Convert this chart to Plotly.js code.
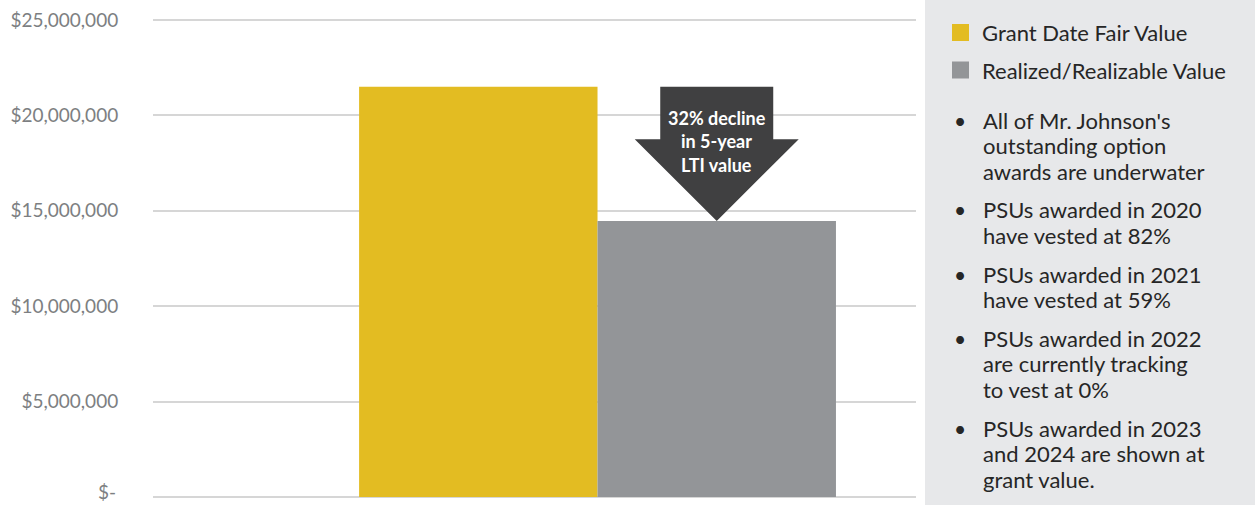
<!DOCTYPE html>
<html><head><meta charset="utf-8">
<script src="https://cdn.plot.ly/plotly-3.0.1.min.js"></script>
<style>html,body{margin:0;padding:0;background:#fff}#chart{width:1255px;height:505px}</style>
</head><body><div id="chart"></div>
<script>
const categories = ['5-Year LTI'];
const seriesNames = ['Grant Date Fair Value', 'Realized/Realizable Value'];
const grantValues = [21500000];
const realizedValues = [14470000];
const seriesColors = ['#e3bc22', '#939598'];
const yTickVals = [0, 5000000, 10000000, 15000000, 20000000, 25000000];
const yTickText = ['$-', '$5,000,000', '$10,000,000', '$15,000,000', '$20,000,000', '$25,000,000'];
const calloutLines = ['32% decline', 'in 5-year', 'LTI value'];
const bullets = [
  ["All of Mr. Johnson's", 'outstanding option', 'awards are underwater'],
  ['PSUs awarded in 2020', 'have vested at 82%'],
  ['PSUs awarded in 2021', 'have vested at 59%'],
  ['PSUs awarded in 2022', 'are currently tracking', 'to vest at 0%'],
  ['PSUs awarded in 2023', 'and 2024 are shown at', 'grant value.']
];

const W = 1255, H = 505;
const M = {l: 153, r: 339, t: 18, b: 6};
const plotW = W - M.l - M.r, plotH = H - M.t - M.b;
const px = x => (x - M.l) / plotW;
const py = y => (H - M.b - y) / plotH;
const FONT = 'Lato, "Open Sans", sans-serif';
const TXT = '#262626';
const TICKCOL = '#7d7f82';
const perPx = 25000000 / 477;
const yRange = [-2 * perPx, 25000000 + 2 * perPx];

const bargap = 0.375;
const grayCenter = (1 - bargap) / 4;

const traces = [
  {type: 'bar', name: seriesNames[0], x: categories, y: grantValues,
   marker: {color: seriesColors[0]}, hoverinfo: 'skip'},
  {type: 'bar', name: seriesNames[1], x: categories, y: realizedValues,
   marker: {color: seriesColors[1]}, hoverinfo: 'skip'}
];

const shapes = [
  {type: 'rect', xref: 'paper', yref: 'paper', x0: px(925), x1: px(1256), y0: py(506), y1: py(-1),
   fillcolor: '#e7e8ea', line: {width: 0}, layer: 'below'}
];
const wingY = 18750000;
shapes.push({
  type: 'path', xref: 'x', yref: 'y', xsizemode: 'pixel', xanchor: grayCenter,
  path: `M -56.5,${grantValues[0]} L 56.5,${grantValues[0]} L 56.5,${wingY} L 82,${wingY} L 0,${realizedValues[0]} L -82,${wingY} L -56.5,${wingY} Z`,
  fillcolor: '#404041', line: {width: 0}, layer: 'above'
});

const annotations = [];
const calloutShift = [103, 80, 56];
calloutLines.forEach((t, i) => annotations.push({
  xref: 'x', yref: 'y', x: grayCenter, y: realizedValues[0], yshift: calloutShift[i],
  text: '<b>' + t + '</b>', showarrow: false, xanchor: 'center', yanchor: 'middle',
  font: {family: FONT, size: 18, color: '#ffffff'}
}));

// bottom tick label drawn as an annotation kept inside the page
annotations.push({xref: 'paper', yref: 'paper', x: px(118), y: 0, yshift: -M.b,
  text: yTickText[0], showarrow: false, xanchor: 'right', yanchor: 'bottom',
  font: {family: FONT, size: 19, color: TICKCOL}});

const legendRows = [32.5, 70];
seriesNames.forEach((n, i) => {
  shapes.push({type: 'rect', xref: 'paper', yref: 'paper',
    x0: px(952), x1: px(969), y0: py(legendRows[i] + 8.5), y1: py(legendRows[i] - 8.5),
    fillcolor: seriesColors[i], line: {width: 0}});
  annotations.push({xref: 'paper', yref: 'paper', x: px(980), y: py(legendRows[i]),
    text: n, showarrow: false, xanchor: 'left', yanchor: 'middle',
    font: {family: FONT, size: 22, color: TXT}});
});

let yy = 120;
const lineH = 25.7, blockGap = 38.5;
bullets.forEach((block, bi) => {
  if (bi > 0) yy += blockGap - lineH;
  annotations.push({xref: 'paper', yref: 'paper', x: px(960), y: py(yy),
    text: '•', showarrow: false, xanchor: 'center', yanchor: 'middle',
    font: {family: FONT, size: 21, color: TXT}});
  block.forEach(line => {
    annotations.push({xref: 'paper', yref: 'paper', x: px(981), y: py(yy),
      text: line, showarrow: false, xanchor: 'left', yanchor: 'middle',
      font: {family: FONT, size: 22, color: TXT}});
    yy += lineH;
  });
});

const layout = {
  width: W, height: H, margin: M,
  paper_bgcolor: '#ffffff', plot_bgcolor: '#ffffff',
  showlegend: false, barmode: 'group', bargap: bargap, bargroupgap: 0,
  font: {family: FONT},
  xaxis: {type: 'category', range: [-0.5826, 0.4174], showticklabels: false,
          showgrid: false, zeroline: false, showline: false, ticks: '', fixedrange: true},
  yaxis: {range: yRange, tickvals: yTickVals, ticktext: [''].concat(yTickText.slice(1)),
          showgrid: true, gridcolor: '#d6d6d6', gridwidth: 2,
          zeroline: false, showline: false, ticklabeloverflow: 'allow',
          ticks: 'outside', ticklen: 30, tickcolor: 'rgba(0,0,0,0)',
          tickfont: {family: FONT, size: 19, color: TICKCOL}, fixedrange: true},
  shapes: shapes, annotations: annotations
};
Plotly.newPlot('chart', traces, layout, {staticPlot: true, displayModeBar: false});
</script>
</body></html>
